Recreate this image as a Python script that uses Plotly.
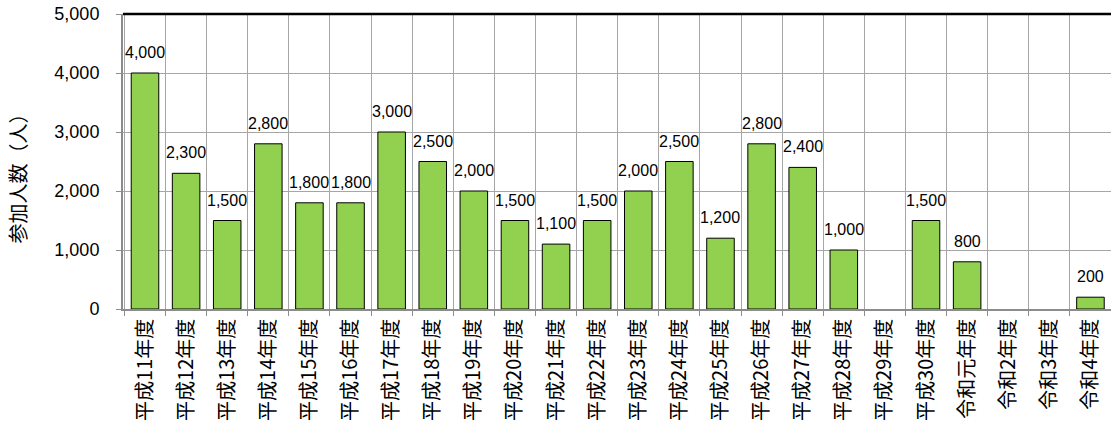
import plotly.graph_objects as go

categories = ["平成11年度", "平成12年度", "平成13年度", "平成14年度", "平成15年度", "平成16年度",
              "平成17年度", "平成18年度", "平成19年度", "平成20年度", "平成21年度", "平成22年度",
              "平成23年度", "平成24年度", "平成25年度", "平成26年度", "平成27年度", "平成28年度",
              "平成29年度", "平成30年度", "令和元年度", "令和2年度", "令和3年度", "令和4年度"]
participants = [4000, 2300, 1500, 2800, 1800, 1800, 3000, 2500, 2000, 1500, 1100, 1500,
                2000, 2500, 1200, 2800, 2400, 1000, None, 1500, 800, None, None, 200]
y_ticks = [0, 1000, 2000, 3000, 4000, 5000]
y_title = "参加人数（人）"

FONT = "Liberation Sans, Arial, Noto Sans CJK JP, sans-serif"
CJK = "Noto Sans CJK JP, Liberation Sans, sans-serif"

fig = go.Figure()
fig.add_trace(go.Bar(
    x=categories, y=participants,
    marker=dict(color="#92D050", line=dict(color="#000000", width=1)),
    width=0.67,
    hoverinfo="x+y",
))

annotations = []
for c, v in zip(categories, participants):
    if v is None:
        continue
    annotations.append(dict(x=c, y=v, xref="x", yref="y", text=f"{v:,}",
                            showarrow=False, yanchor="bottom", yshift=10,
                            font=dict(size=16, color="#000000", family=FONT)))
annotations.append(dict(x=-0.107, y=0.46, xref="paper", yref="paper",
                        xanchor="center", yanchor="middle",
                        text=y_title, showarrow=False, textangle=-90,
                        font=dict(size=20, color="#000000", family=CJK)))

fig.update_layout(
    width=1111, height=427,
    margin=dict(l=123, r=0, t=14, b=118, autoexpand=False),
    paper_bgcolor="white", plot_bgcolor="white",
    showlegend=False,
    font=dict(family=FONT, color="#000000"),
    annotations=annotations,
    shapes=[dict(type="line", xref="paper", yref="paper", x0=0, x1=1, y0=1, y1=1,
                 line=dict(color="#000000", width=2.5))],
)
fig.update_xaxes(
    type="category", tickson="boundaries", ticks="outside", ticklen=5,
    tickcolor="#8c8c8c", tickangle=-90, showgrid=True, gridcolor="#a6a6a6", gridwidth=1,
    showline=True, linecolor="#8c8c8c", linewidth=1.5, automargin=False,
    tickfont=dict(size=20, color="#000000", family=CJK),
)
fig.update_yaxes(
    range=[0, 5000], tickvals=y_ticks, tickformat=",", ticks="outside", ticklen=5,
    tickcolor="#8c8c8c", showgrid=True, gridcolor="#a6a6a6", gridwidth=1,
    showline=True, linecolor="#8c8c8c", linewidth=2, zeroline=False,
    ticklabelstandoff=13, automargin=False,
    tickfont=dict(size=18, color="#000000", family=FONT),
)

fig.write_html("out.html", config={"displayModeBar": False},
               post_script="document.body.style.margin='0';document.body.style.overflow='hidden';")
